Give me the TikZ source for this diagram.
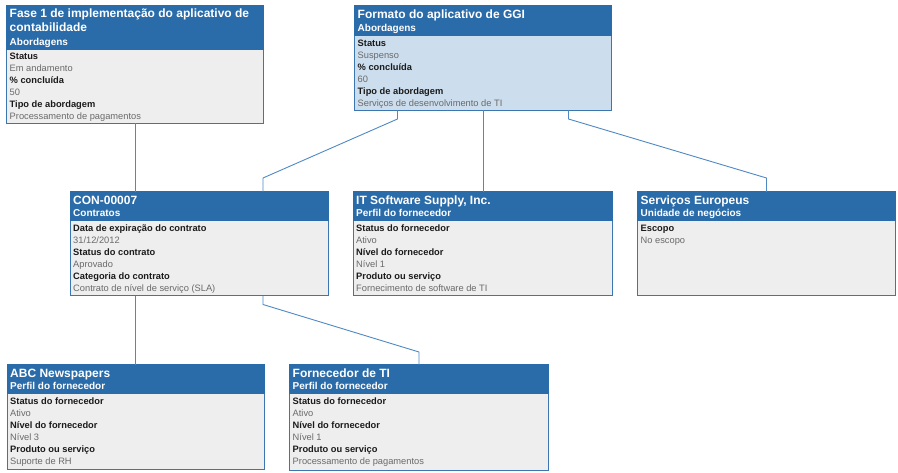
\documentclass[tikz,border=0pt]{standalone}
\usepackage{fontspec}
\setmainfont{Liberation Sans}
\usetikzlibrary{calc}
\definecolor{hdr}{HTML}{2A6BA9}
\definecolor{bdr}{HTML}{3B76B1}
\definecolor{bodyg}{HTML}{EEEEEE}
\definecolor{bodyb}{HTML}{CCDDED}
\definecolor{conc}{HTML}{4F89C3}
\definecolor{labc}{HTML}{1A1A1A}
\definecolor{valc}{HTML}{6A6A6A}
\tikzset{
  cardbody/.style={draw=bdr, line width=1pt, fill=bodyg, anchor=north west, inner sep=0, outer sep=0},
  cardheadbox/.style={draw=hdr, line width=1pt, fill=hdr, anchor=north west, inner sep=0, outer sep=0},
  ttl/.style={anchor=base west, inner sep=0, text=white, font=\fontsize{12}{14}\selectfont\bfseries},
  subttl/.style={anchor=base west, inner sep=0, text=white, font=\fontsize{10}{12}\selectfont\bfseries},
  lab/.style={anchor=base west, inner sep=0, text=labc, font=\fontsize{9.3}{11}\selectfont\bfseries},
  val/.style={anchor=base west, inner sep=0, text=valc, font=\fontsize{9.3}{11}\selectfont},
  conn/.style={draw=conc, line width=0.9pt}
}
\newcommand\cardfields[2]{%
  \foreach \lab/\val [count=\i] in {#2} {
    \node[lab] (#1-l\i) at ($(#1h.south west)+(3,10.3+24*\i-24)$) {\lab};
    \node[val] (#1-v\i) at ($(#1h.south west)+(3,22.3+24*\i-24)$) {\val};
  }%
}
\begin{document}
\begin{tikzpicture}[x=1pt,y=-1pt]
\useasboundingbox (0,0) rectangle (898,473);

% Card 1
\node[cardbody, minimum width=257pt, minimum height=117.5pt] (c1) at (6.5,6) {};
\node[cardheadbox, minimum width=257pt, minimum height=43.5pt] (c1h) at (6.5,6) {};
\node[ttl] (c1t1) at ($(c1h.north west)+(3,11.5)$) {Fase 1 de implementação do aplicativo de};
\node[ttl] (c1t2) at ($(c1h.north west)+(3,26)$) {contabilidade};
\node[subttl] (c1s) at ($(c1h.south west)+(3,-4.3)$) {Abordagens};
\cardfields{c1}{Status/Em andamento, {\% concluída}/50, {Tipo de abordagem}/{Processamento de pagamentos}}

% GGI
\node[cardbody, fill=bodyb, minimum width=257pt, minimum height=104.5pt] (g) at (354.5,6) {};
\node[cardheadbox, minimum width=257pt, minimum height=30pt] (gh) at (354.5,6) {};
\node[ttl] (gt1) at ($(gh.north west)+(3,12.3)$) {Formato do aplicativo de GGI};
\node[subttl] (gs) at ($(gh.south west)+(3,-4.3)$) {Abordagens};
\cardfields{g}{Status/Suspenso, {\% concluída}/60, {Tipo de abordagem}/{Serviços de desenvolvimento de TI}}

% CON
\node[cardbody, minimum width=258pt, minimum height=104pt] (con) at (70,192) {};
\node[cardheadbox, minimum width=258pt, minimum height=29pt] (conh) at (70,192) {};
\node[ttl] (cont1) at ($(conh.north west)+(3,12.3)$) {CON-00007};
\node[subttl] (cons) at ($(conh.south west)+(3,-4.3)$) {Contratos};
\cardfields{con}{{Data de expiração do contrato}/{31/12/2012}, {Status do contrato}/Aprovado, {Categoria do contrato}/{Contrato de nível de serviço (SLA)}}

% IT Software
\node[cardbody, minimum width=259pt, minimum height=104pt] (its) at (353,192) {};
\node[cardheadbox, minimum width=259pt, minimum height=29pt] (itsh) at (353,192) {};
\node[ttl] (itst1) at ($(itsh.north west)+(3,12.3)$) {IT Software Supply, Inc.};
\node[subttl] (itss) at ($(itsh.south west)+(3,-4.3)$) {Perfil do fornecedor};
\cardfields{its}{{Status do fornecedor}/Ativo, {Nível do fornecedor}/{Nível 1}, {Produto ou serviço}/{Fornecimento de software de TI}}

% Servicos Europeus
\node[cardbody, minimum width=258pt, minimum height=104pt] (seu) at (637.5,192) {};
\node[cardheadbox, minimum width=258pt, minimum height=29pt] (seuh) at (637.5,192) {};
\node[ttl] (seut1) at ($(seuh.north west)+(3,12.3)$) {Serviços Europeus};
\node[subttl] (seus) at ($(seuh.south west)+(3,-4.3)$) {Unidade de negócios};
\cardfields{seu}{Escopo/{No escopo}}

% ABC
\node[cardbody, minimum width=257pt, minimum height=104.5pt] (abc) at (7,365) {};
\node[cardheadbox, minimum width=257pt, minimum height=29pt] (abch) at (7,365) {};
\node[ttl] (abct1) at ($(abch.north west)+(3,12.3)$) {ABC Newspapers};
\node[subttl] (abcs) at ($(abch.south west)+(3,-4.3)$) {Perfil do fornecedor};
\cardfields{abc}{{Status do fornecedor}/Ativo, {Nível do fornecedor}/{Nível 3}, {Produto ou serviço}/{Suporte de RH}}

% Fornecedor de TI
\node[cardbody, minimum width=259pt, minimum height=105pt] (fti) at (289.5,365) {};
\node[cardheadbox, minimum width=259pt, minimum height=29pt] (ftih) at (289.5,365) {};
\node[ttl] (ftit1) at ($(ftih.north west)+(3,12.3)$) {Fornecedor de TI};
\node[subttl] (ftis) at ($(ftih.south west)+(3,-4.3)$) {Perfil do fornecedor};
\cardfields{fti}{{Status do fornecedor}/Ativo, {Nível do fornecedor}/{Nível 1}, {Produto ou serviço}/{Processamento de pagamentos}}

% connectors
\coordinate (gl) at ($(g.south)+(-85.5,0)$);
\coordinate (gr) at ($(g.south)+(85.5,0)$);
\coordinate (conin) at ($(con.north)+(64,0)$);
\coordinate (conl) at ($(con.south)+(-64,0)$);
\coordinate (conr) at ($(con.south)+(64,0)$);

\draw[conn] (c1.south) -- (c1.south |- con.north);
\draw[conn] (gl) -- ++(0,8.5) -- ($(conin)+(0,-14)$) -- (conin);
\draw[conn] (g.south) -- (g.south |- its.north);
\draw[conn] (gr) -- ++(0,8.5) -- ($(seu.north)+(0,-14)$) -- (seu.north);
\draw[conn] (conl) -- (conl |- abc.north);
\draw[conn] (conr) -- ++(0,8.5) -- ($(fti.north)+(0,-13)$) -- (fti.north);
\end{tikzpicture}
\end{document}
